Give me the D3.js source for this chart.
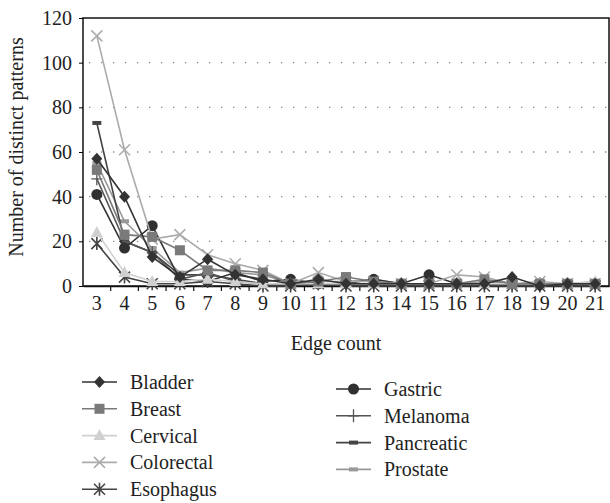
<!DOCTYPE html>
<meta charset="utf-8">
<script src="https://d3js.org/d3.v7.min.js"></script>
<style>
  body { margin: 0; background: #fff; }
  text { font-family: "Liberation Serif", "DejaVu Serif", serif; fill: #222; }
</style>
<div id="chart"></div>
<script>

var width = 610, height = 503;

// dados
var edgeCounts = [3,4,5,6,7,8,9,10,11,12,13,14,15,16,17,18,19,20,21];
var yTicks = [0,20,40,60,80,100,120];

var bladder    = [57,40,13,4,12,5,3,1,3,1,1,1,1,1,1,4,0,1,1];
var breast     = [52,23,22,16,7,7,6,1,2,4,2,1,1,1,3,1,1,1,1];
var cervical   = [24,6,2,2,3,2,1,1,1,1,1,1,1,1,1,1,1,1,2];
var colorectal = [112,61,21,23,14,10,7,1,6,2,2,1,1,5,4,1,2,1,1];
var esophagus  = [19,4,1,1,2,1,0,0,1,0,0,0,0,0,0,0,0,0,0];
var gastric    = [41,17,27,3,2,6,2,3,1,1,3,1,5,1,1,1,1,1,1];
var melanoma   = [48,20,15,3,6,2,1,1,1,1,1,1,1,1,1,1,1,1,1];
var pancreatic = [73,20,15,5,5,3,1,1,1,1,1,1,1,1,1,1,1,1,1];
var prostate   = [55,29,17,6,8,6,5,1,2,2,3,1,1,1,2,1,1,1,2];

var series = [
  {name:"Bladder",    values:bladder,    cor:"#333", mk:"diamond"},
  {name:"Breast",     values:breast,     cor:"#7a7a7a", mk:"square"},
  {name:"Cervical",   values:cervical,   cor:"#d0d0d0", mk:"triangle"},
  {name:"Colorectal", values:colorectal, cor:"#ababab", mk:"x"},
  {name:"Esophagus",  values:esophagus,  cor:"#444", mk:"star"},
  {name:"Gastric",    values:gastric,    cor:"#303030", mk:"circle"},
  {name:"Melanoma",   values:melanoma,   cor:"#555", mk:"plus"},
  {name:"Pancreatic", values:pancreatic, cor:"#444", mk:"dash"},
  {name:"Prostate",   values:prostate,   cor:"#999", mk:"dash"}
];

var m = {left:83, right:609, top:18, bottom:286};
var fs = "20px";

var svg = d3.select("#chart").append("svg")
  .attr("width", width)
  .attr("height", height);

var x = d3.scaleBand().domain(edgeCounts).range([m.left, m.right]);
var y = d3.scaleLinear().domain([0,120]).range([m.bottom, m.top]);

// grade pontilhada
svg.append("g")
  .selectAll("line")
  .data(yTicks.filter(function(d){ return d > 0 && d < 120; }))
  .join("line")
  .attr("x1", m.left + 6).attr("x2", m.right)
  .attr("y1", function(d){ return y(d); })
  .attr("y2", function(d){ return y(d); })
  .style("stroke", "#888")
  .style("stroke-width", 1.3)
  .style("stroke-dasharray", "1.3,10.7");

// moldura
svg.append("rect")
  .attr("x", m.left).attr("y", m.top)
  .attr("width", m.right - m.left).attr("height", m.bottom - m.top)
  .style("fill", "none").style("stroke", "#111").style("stroke-width", 1.5);

// eixo y
var yAxis = svg.append("g")
  .attr("transform", "translate(" + m.left + ",0)")
  .call(d3.axisLeft(y).tickValues(yTicks).tickSize(4).tickPadding(7));
yAxis.select(".domain").remove();
yAxis.selectAll("text").style("font-size", fs).style("fill", "#222")
  .style("font-family", "Liberation Serif, serif");

// eixo x - marcas nos limites das categorias
var xAxis = svg.append("g")
  .attr("transform", "translate(0," + m.bottom + ")")
  .call(d3.axisBottom(x).tickSize(0).tickPadding(10));
xAxis.select(".domain").style("stroke", "#111").style("stroke-width", 1.5);
xAxis.selectAll("text").style("font-size", fs).style("fill", "#222")
  .style("font-family", "Liberation Serif, serif");

svg.append("g")
  .selectAll("line")
  .data(edgeCounts.slice(1))
  .join("line")
  .attr("x1", function(d){ return x(d); })
  .attr("x2", function(d){ return x(d); })
  .attr("y1", m.bottom).attr("y2", m.bottom + 5)
  .style("stroke", "#111").style("stroke-width", 1.2);

// títulos dos eixos
svg.append("text")
  .text("Edge count")
  .attr("x", 336).attr("y", 350)
  .attr("text-anchor", "middle")
  .style("font-size", fs);

svg.append("text")
  .text("Number of distinct patterns")
  .attr("transform", "translate(23,147) rotate(-90)")
  .attr("text-anchor", "middle")
  .style("font-size", fs);

// marcadores
function marker(g, mk, cor) {
  if (mk == "diamond") {
    g.append("path").attr("d", "M0,-6L5.5,0L0,6L-5.5,0Z").style("fill", cor);
  } else if (mk == "square") {
    g.append("rect").attr("x",-5).attr("y",-5).attr("width",10).attr("height",10).style("fill", cor);
  } else if (mk == "triangle") {
    g.append("path").attr("d", "M0,-6.5L6,4.5L-6,4.5Z").style("fill", cor);
  } else if (mk == "circle") {
    g.append("circle").attr("r", 5.5).style("fill", cor);
  } else if (mk == "x") {
    g.append("path").attr("d", "M-5.5,-5.5L5.5,5.5M-5.5,5.5L5.5,-5.5").style("stroke", cor).style("stroke-width", 1.5);
  } else if (mk == "star") {
    g.append("path").attr("d", "M-5.5,-5.5L5.5,5.5M-5.5,5.5L5.5,-5.5M0,-6.5L0,6.5").style("stroke", cor).style("stroke-width", 1.6);
  } else if (mk == "plus") {
    g.append("path").attr("d", "M-5.5,0L5.5,0M0,-6.5L0,6.5").style("stroke", cor).style("stroke-width", 1.3);
  } else if (mk == "dash") {
    g.append("rect").attr("x",-4.5).attr("y",-2).attr("width",9).attr("height",4).style("fill", cor);
  }
}

var line = d3.line()
  .x(function(d,i){ return x(edgeCounts[i]) + x.bandwidth()/2; })
  .y(function(d){ return y(d); });

// desenha do último para o primeiro para Bladder ficar por cima
series.slice().reverse().forEach(function(s) {
  var g = svg.append("g");
  g.append("path")
    .attr("d", line(s.values))
    .style("fill", "none")
    .style("stroke", s.cor)
    .style("stroke-width", 1.6);
  g.selectAll("g")
    .data(s.values)
    .join("g")
    .attr("transform", function(d,i){
      return "translate(" + (x(edgeCounts[i]) + x.bandwidth()/2) + "," + y(d) + ")";
    })
    .each(function(){ marker(d3.select(this), s.mk, s.cor); });
});

// legenda
var leg = svg.append("g");
series.forEach(function(s, i) {
  var col = i < 5 ? 0 : 1;
  var row = i < 5 ? i : i - 5;
  var lx = col == 0 ? 82 : 336;
  var ly = (col == 0 ? 382 : 389) + row * 26.8;
  var g = leg.append("g");
  g.append("line")
    .attr("x1", lx).attr("x2", lx + 35)
    .attr("y1", ly).attr("y2", ly)
    .style("stroke", s.cor).style("stroke-width", 1.6);
  var mg = g.append("g").attr("transform", "translate(" + (lx + 17.5) + "," + ly + ")");
  marker(mg, s.mk, s.cor);
  g.append("text")
    .text(s.name)
    .attr("x", lx + 48).attr("y", ly)
    .attr("dominant-baseline", "central")
    .style("font-size", fs);
});

</script>
